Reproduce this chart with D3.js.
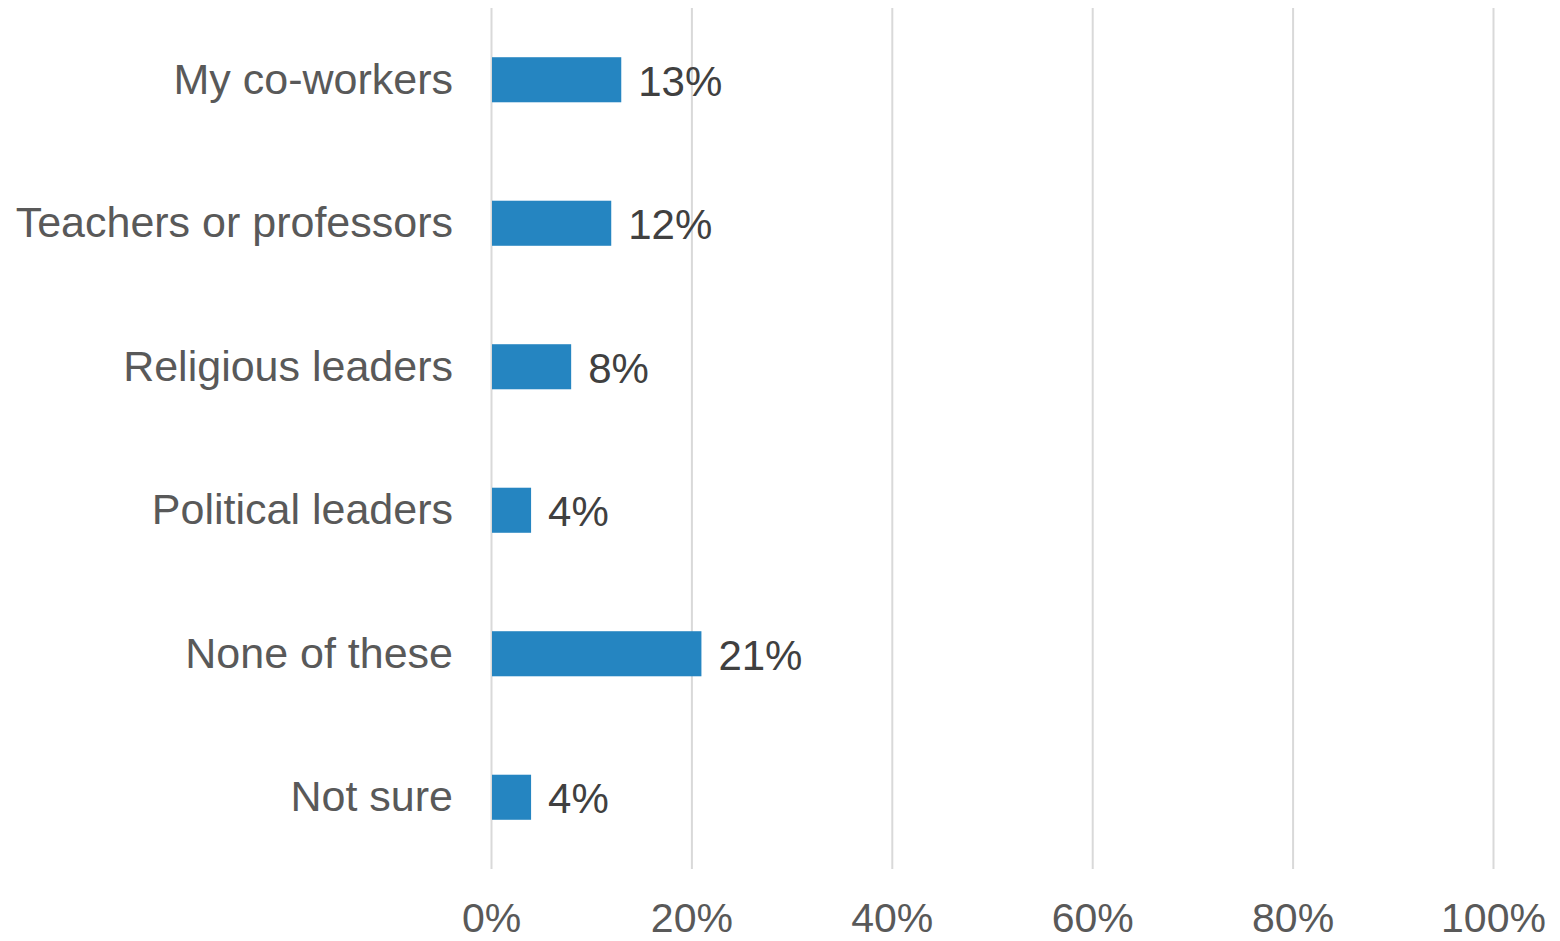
<!DOCTYPE html>
<html>
<head>
<meta charset="utf-8">
<script src="https://cdn.jsdelivr.net/npm/d3@7"></script>
<style>
  html, body { margin: 0; padding: 0; background: #ffffff; }
  svg { display: block; }
</style>
</head>
<body>
<svg id="chart" width="1560" height="941"></svg>
<script>
// Survey responses, shares in percent
const categories = ["My co-workers", "Teachers or professors", "Religious leaders", "Political leaders", "None of these", "Not sure"];
const values = [13, 12, 8, 4, 21, 4];
const tickValues = [0, 20, 40, 60, 80, 100];

const svg = d3.select("#chart");
const font = "'Liberation Sans', Arial, sans-serif";

const plot = { left: 491, right: 1493, top: 8, bottom: 869 };

const x = d3.scaleLinear().domain([0, 100]).range([plot.left, plot.right]);
const y = d3.scaleBand()
  .domain(categories)
  .range([plot.top, plot.bottom])
  .paddingInner(0.686)
  .paddingOuter(0.343);

// Vertical gridlines
svg.append("g")
  .selectAll("line")
  .data(tickValues)
  .join("line")
  .attr("x1", d => x(d) + 0.5)
  .attr("x2", d => x(d) + 0.5)
  .attr("y1", plot.top)
  .attr("y2", plot.bottom)
  .attr("stroke", "#d9d9d9")
  .attr("stroke-width", 2);

// Bars
svg.append("g")
  .selectAll("rect")
  .data(categories)
  .join("rect")
  .attr("x", x(0) + 1)
  .attr("y", d => y(d))
  .attr("width", (d, i) => x(values[i]) - x(0) - 1)
  .attr("height", y.bandwidth())
  .attr("fill", "#2585c1");

// Value labels
svg.append("g")
  .selectAll("text")
  .data(categories)
  .join("text")
  .attr("x", (d, i) => x(values[i]) + 17)
  .attr("y", d => y(d) + y.bandwidth() / 2 + 16)
  .attr("font-family", font)
  .attr("font-size", 42)
  .attr("fill", "#404040")
  .text((d, i) => values[i] + "%");

// Category axis (labels only)
const yAxis = svg.append("g")
  .attr("transform", `translate(${plot.left},0)`)
  .call(d3.axisLeft(y).tickSize(0).tickPadding(38));
yAxis.select(".domain").remove();
yAxis.selectAll("text")
  .attr("font-family", font)
  .attr("font-size", 43)
  .attr("fill", "#595959")
  .attr("dy", "0.32em");

// Percent axis (labels only)
const xAxis = svg.append("g")
  .attr("transform", `translate(0,${plot.bottom})`)
  .call(d3.axisBottom(x).tickValues(tickValues).tickSize(0).tickPadding(34).tickFormat(d => d + "%"));
xAxis.select(".domain").remove();
xAxis.selectAll("text")
  .attr("font-family", font)
  .attr("font-size", 41)
  .attr("fill", "#595959");
</script>
</body>
</html>
